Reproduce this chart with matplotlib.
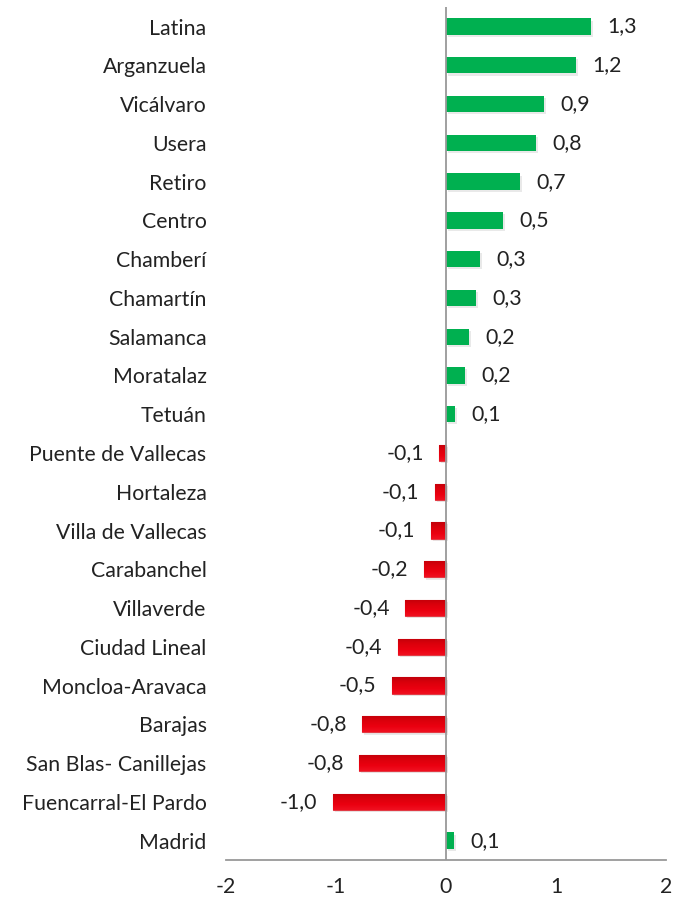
import matplotlib.pyplot as plt
import matplotlib.patheffects as pe
import numpy as np
from matplotlib.colors import LinearSegmentedColormap

plt.rcParams['font.family'] = ['Lato', 'DejaVu Sans']

distritos = ['Latina', 'Arganzuela', 'Vicálvaro', 'Usera', 'Retiro', 'Centro',
             'Chamberí', 'Chamartín', 'Salamanca', 'Moratalaz', 'Tetuán',
             'Puente de Vallecas', 'Hortaleza', 'Villa de Vallecas', 'Carabanchel',
             'Villaverde', 'Ciudad Lineal', 'Moncloa-Aravaca', 'Barajas',
             'San Blas- Canillejas', 'Fuencarral-El Pardo', 'Madrid']
variacion = [1.32, 1.18, 0.89, 0.82, 0.67, 0.52, 0.31, 0.27, 0.21, 0.17, 0.08,
             -0.06, -0.10, -0.14, -0.20, -0.37, -0.44, -0.49, -0.76, -0.79,
             -1.03, 0.07]
xticks = [-2, -1, 0, 1, 2]

verde = '#00B050'
rojos = LinearSegmentedColormap.from_list('rojos', ['#F01020', '#EA0010', '#DC000C', '#C2000A'])

fig = plt.figure(figsize=(6.9, 8.98), dpi=100)
ax = fig.add_axes([0.3275, 0.0423, 0.6377, 0.9497])

y = np.arange(len(distritos))
colores = [verde if v >= 0 else '#E00010' for v in variacion]
bars = ax.barh(y, variacion, height=0.42, color=colores, zorder=3)

grad = np.linspace(0, 1, 64).reshape(-1, 1)
for b, v in zip(bars, variacion):
    b.set_path_effects([pe.SimplePatchShadow(offset=(1.5, -1.5), shadow_rgbFace='#888888', alpha=0.18), pe.Normal()])
    if v < 0:
        b.set_edgecolor('#E23A44')
        b.set_linewidth(0.8)
        x0, y0 = b.get_x(), b.get_y()
        im = ax.imshow(grad, cmap=rojos, aspect='auto', zorder=4,
                       extent=(x0, x0 + b.get_width(), y0, y0 + b.get_height()),
                       origin='upper')
        im.set_clip_path(b)

for yi, v in zip(y, variacion):
    txt = f'{v:.1f}'.replace('.', ',')
    if v >= 0:
        ax.text(v + 0.15, yi, txt, va='center', ha='left', fontsize=15.3, color='#222222')
    else:
        ax.text(v - 0.14, yi, txt, va='center', ha='right', fontsize=15.3, color='#222222')

ax.set_xlim(-2, 2)
ax.set_ylim(len(distritos) - 0.5, -0.5)
ax.set_yticks(y)
ax.set_yticklabels(distritos, fontsize=15.3, color='#222222')
ax.set_xticks(xticks)
ax.set_xticklabels([str(t) for t in xticks], fontsize=15.3, color='#222222')
ax.tick_params(axis='y', length=0, pad=14)
ax.tick_params(axis='x', length=0, pad=12)

ax.axvline(0, color='#999999', lw=1.3, zorder=5)
for s in ['top', 'right', 'left']:
    ax.spines[s].set_visible(False)
ax.spines['bottom'].set_color('#999999')
ax.spines['bottom'].set_linewidth(1.3)

fig.savefig('out.png', dpi=100)
